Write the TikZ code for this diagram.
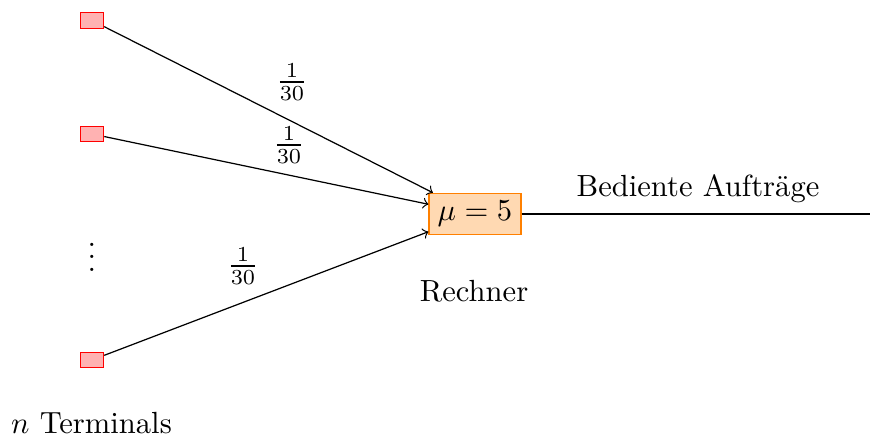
\documentclass[tikz,border=0pt]{standalone}
\usetikzlibrary{arrows}
\begin{document}
\begin{tikzpicture}[x=0.3268pt, y=-0.3268pt,
  term/.style={draw=red, fill=red!30, minimum width=7.6pt, minimum height=5pt, inner sep=0pt},
  cpu/.style={draw=orange, fill=orange!30, minimum width=30pt, minimum height=13.5pt, inner sep=0pt},
  lab/.style={inner sep=0pt},
  conn/.style={->}]
\useasboundingbox (0,0) rectangle (870,440);
\node[term] (t1) at (92,20.5) {};
\node[term] (t2) at (92,134) {};
\node[term] (t3) at (92,360) {};
\node[lab] (dots) at (92,248) {$\vdots$};
\node[cpu] (mu) at (475,214) {$\mu=5$};
\coordinate (out) at (870,214);
\draw[conn] (t1) -- (mu);
\draw[conn] (t2) -- (mu);
\draw[conn] (t3) -- (mu);
\draw (mu) -- (out);
\node[lab] (f1) at (292,82) {$\frac{1}{30}$};
\node[lab] (f2) at (289,145) {$\frac{1}{30}$};
\node[lab] (f3) at (243,266) {$\frac{1}{30}$};
\node[lab] (ba) at (698,189) {Bediente Aufträge};
\node[lab] (re) at (474,291) {Rechner};
\node[lab] (nt) at (91.5,423) {$n$ Terminals};
\end{tikzpicture}
\end{document}
